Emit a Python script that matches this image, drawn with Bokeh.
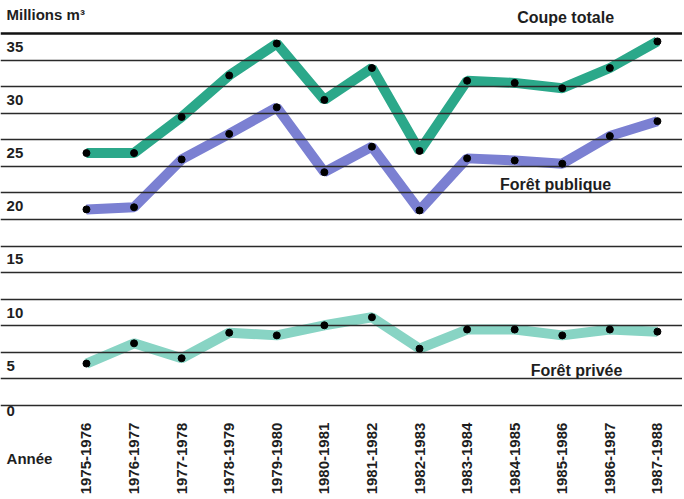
from bokeh.plotting import figure
from bokeh.models import Range1d
from bokeh.core.properties import value
from bokeh.embed import file_html
from bokeh.resources import INLINE
import math

years = ["1975-1976", "1976-1977", "1977-1978", "1978-1979", "1979-1980",
         "1980-1981", "1981-1982", "1982-1983", "1983-1984", "1984-1985",
         "1985-1986", "1986-1987", "1987-1988"]
coupe_totale = [25.0, 25.0, 28.4, 32.3, 35.3, 30.0, 33.0, 25.2, 31.8, 31.6, 31.1, 33.0, 35.5]
foret_publique = [19.7, 19.9, 24.4, 26.8, 29.3, 23.2, 25.6, 19.6, 24.5, 24.3, 24.0, 26.6, 28.0]
foret_privee = [5.2, 7.1, 5.7, 8.1, 7.85, 8.8, 9.55, 6.6, 8.4, 8.4, 7.85, 8.4, 8.2]
ytick_vals = [0, 5, 10, 15, 20, 25, 30, 35]
grid_vals = [1.25 + 2.5 * i for i in range(15)]

FONT = value("Liberation Sans")
TXT = "#1e1e1e"

p = figure(width=682, height=497, output_backend="svg", toolbar_location=None,
           x_axis_type=None, y_axis_type=None,
           x_range=Range1d(-1.807, 12.527), y_range=Range1d(-7.40, 39.35),
           min_border=0, outline_line_color=None, background_fill_color="white",
           border_fill_color="white")

xs = list(range(len(years)))

series = [
    (coupe_totale, "#2ba88a"),
    (foret_publique, "#7b80d2"),
    (foret_privee, "#88d4c4"),
]
for vals, col in series:
    p.line(xs, vals, line_color=col, line_width=10, line_join="bevel")

# grid lines drawn over the bands
p.hspan(y=grid_vals[:-1], line_color="#2a2a2a", line_width=1.6)
p.hspan(y=[grid_vals[-1]], line_color="#111111", line_width=2.6)

for vals, col in series:
    p.scatter(xs, vals, size=7, fill_color="black", line_color="black")

# y labels
label_x = -1.68
ylab_y = [v if v > 0 else 0.75 for v in ytick_vals]
p.text(x=[label_x] * len(ytick_vals), y=ylab_y, text=[str(v) for v in ytick_vals],
       text_font=FONT, text_font_style="bold", text_font_size="15px",
       text_color=TXT, text_align="left", text_baseline="middle")

# year labels (vertical)
p.text(x=xs, y=[-3.73] * len(xs), text=years, angle=math.pi / 2,
       text_font=FONT, text_font_style="bold", text_font_size="15px",
       text_color=TXT, text_align="center", text_baseline="middle")

p.text(x=[label_x], y=[-3.73], text=["Année"],
       text_font=FONT, text_font_style="bold", text_font_size="15px",
       text_color=TXT, text_align="left", text_baseline="middle")

p.text(x=[label_x], y=[38.0], text=["Millions m³"],
       text_font=FONT, text_font_style="bold", text_font_size="15px",
       text_color=TXT, text_align="left", text_baseline="middle")

# series labels
p.text(x=[10.07, 9.86, 10.3], y=[37.75, 22.0, 4.55],
       text=["Coupe totale", "Forêt publique", "Forêt privée"],
       text_font=FONT, text_font_style="bold", text_font_size="16px",
       text_color=TXT, text_align="center", text_baseline="middle")

open("out.html", "w").write(file_html(p, INLINE))
